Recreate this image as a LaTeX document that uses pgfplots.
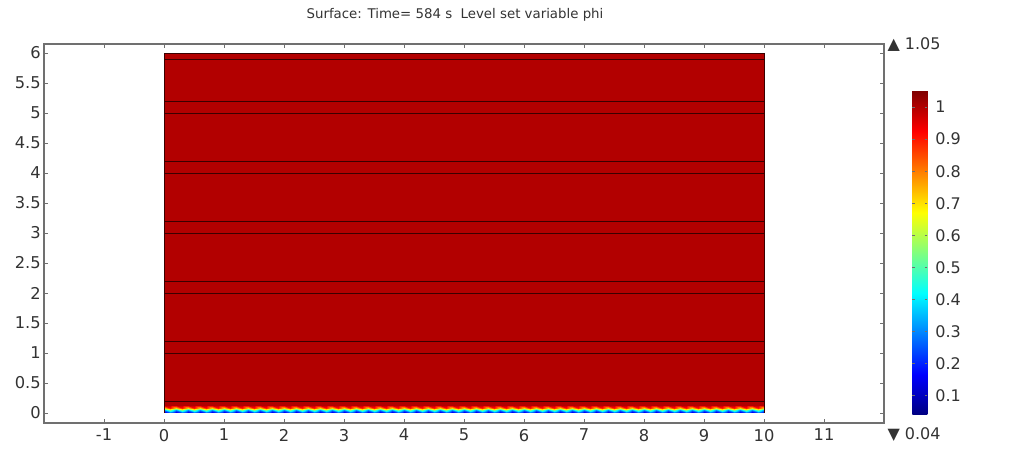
\documentclass[border=0pt]{standalone}
\usepackage{fontspec}
\setmainfont{DejaVu Sans}
\usepackage{pgfplots}
\pgfplotsset{compat=1.18}
\definecolor{axgray}{HTML}{707070}
\definecolor{txt}{HTML}{333333}
\definecolor{lvl}{HTML}{3A0000}
\begin{document}
\begin{tikzpicture}
\useasboundingbox (0,0) rectangle (760.5pt,337.5pt);
\begin{axis}[
  at={(33pt,20.25pt)}, anchor=south west,
  scale only axis, width=630pt, height=284.25pt,
  xmin=-2, xmax=12, ymin=-0.167, ymax=6.15,
  xtick={-1,0,1,2,3,4,5,6,7,8,9,10,11},
  ytick={0,0.5,1,1.5,2,2.5,3,3.5,4,4.5,5,5.5,6},
  tick align=inside, major tick length=3pt,
  axis line style={axgray, line width=0.8pt},
  tick style={axgray, line width=0.6pt},
  ticklabel style={font=\fontsize{12.2}{14}\selectfont, text=txt},
  xticklabel style={yshift=-1pt},
  yticklabel style={xshift=1pt},
  /pgf/number format/assume math mode=true,
  colormap/jet,
  point meta min=0.04, point meta max=1.05,
  colorbar,
  colorbar style={
    at={(parent axis.north east)}, anchor=north west,
    xshift=12.75pt, yshift=-35.25pt,
    scale only axis, width=11.25pt, height=243pt,
    ytick={0.1,0.2,0.3,0.4,0.5,0.6,0.7,0.8,0.9,1},
    yticklabel style={font=\fontsize{12}{14}\selectfont, text=txt, xshift=2.5pt},
    /pgf/number format/assume math mode=true,
    axis line style={draw=none},
    tick style={axgray, line width=0.4pt},
    major tick length=2pt,
  },
]
% interface band (wavy transition of phi)
\addplot[surf, shader=interp, mesh/cols=101, point meta=explicit] coordinates {
(0,0)[0.08] (0.1,0)[0.2] (0.2,0)[0.08] (0.3,0)[0.2] (0.4,0)[0.08] (0.5,0)[0.2] (0.6,0)[0.08] (0.7,0)[0.2] (0.8,0)[0.08] (0.9,0)[0.2]
(1,0)[0.08] (1.1,0)[0.2] (1.2,0)[0.08] (1.3,0)[0.2] (1.4,0)[0.08] (1.5,0)[0.2] (1.6,0)[0.08] (1.7,0)[0.2] (1.8,0)[0.08] (1.9,0)[0.2]
(2,0)[0.08] (2.1,0)[0.2] (2.2,0)[0.08] (2.3,0)[0.2] (2.4,0)[0.08] (2.5,0)[0.2] (2.6,0)[0.08] (2.7,0)[0.2] (2.8,0)[0.08] (2.9,0)[0.2]
(3,0)[0.08] (3.1,0)[0.2] (3.2,0)[0.08] (3.3,0)[0.2] (3.4,0)[0.08] (3.5,0)[0.2] (3.6,0)[0.08] (3.7,0)[0.2] (3.8,0)[0.08] (3.9,0)[0.2]
(4,0)[0.08] (4.1,0)[0.2] (4.2,0)[0.08] (4.3,0)[0.2] (4.4,0)[0.08] (4.5,0)[0.2] (4.6,0)[0.08] (4.7,0)[0.2] (4.8,0)[0.08] (4.9,0)[0.2]
(5,0)[0.08] (5.1,0)[0.2] (5.2,0)[0.08] (5.3,0)[0.2] (5.4,0)[0.08] (5.5,0)[0.2] (5.6,0)[0.08] (5.7,0)[0.2] (5.8,0)[0.08] (5.9,0)[0.2]
(6,0)[0.08] (6.1,0)[0.2] (6.2,0)[0.08] (6.3,0)[0.2] (6.4,0)[0.08] (6.5,0)[0.2] (6.6,0)[0.08] (6.7,0)[0.2] (6.8,0)[0.08] (6.9,0)[0.2]
(7,0)[0.08] (7.1,0)[0.2] (7.2,0)[0.08] (7.3,0)[0.2] (7.4,0)[0.08] (7.5,0)[0.2] (7.6,0)[0.08] (7.7,0)[0.2] (7.8,0)[0.08] (7.9,0)[0.2]
(8,0)[0.08] (8.1,0)[0.2] (8.2,0)[0.08] (8.3,0)[0.2] (8.4,0)[0.08] (8.5,0)[0.2] (8.6,0)[0.08] (8.7,0)[0.2] (8.8,0)[0.08] (8.9,0)[0.2]
(9,0)[0.08] (9.1,0)[0.2] (9.2,0)[0.08] (9.3,0)[0.2] (9.4,0)[0.08] (9.5,0)[0.2] (9.6,0)[0.08] (9.7,0)[0.2] (9.8,0)[0.08] (9.9,0)[0.2]
(10,0)[0.08]
(0,0.05)[0.3] (0.1,0.05)[0.55] (0.2,0.05)[0.3] (0.3,0.05)[0.55] (0.4,0.05)[0.3] (0.5,0.05)[0.55] (0.6,0.05)[0.3] (0.7,0.05)[0.55] (0.8,0.05)[0.3] (0.9,0.05)[0.55]
(1,0.05)[0.3] (1.1,0.05)[0.55] (1.2,0.05)[0.3] (1.3,0.05)[0.55] (1.4,0.05)[0.3] (1.5,0.05)[0.55] (1.6,0.05)[0.3] (1.7,0.05)[0.55] (1.8,0.05)[0.3] (1.9,0.05)[0.55]
(2,0.05)[0.3] (2.1,0.05)[0.55] (2.2,0.05)[0.3] (2.3,0.05)[0.55] (2.4,0.05)[0.3] (2.5,0.05)[0.55] (2.6,0.05)[0.3] (2.7,0.05)[0.55] (2.8,0.05)[0.3] (2.9,0.05)[0.55]
(3,0.05)[0.3] (3.1,0.05)[0.55] (3.2,0.05)[0.3] (3.3,0.05)[0.55] (3.4,0.05)[0.3] (3.5,0.05)[0.55] (3.6,0.05)[0.3] (3.7,0.05)[0.55] (3.8,0.05)[0.3] (3.9,0.05)[0.55]
(4,0.05)[0.3] (4.1,0.05)[0.55] (4.2,0.05)[0.3] (4.3,0.05)[0.55] (4.4,0.05)[0.3] (4.5,0.05)[0.55] (4.6,0.05)[0.3] (4.7,0.05)[0.55] (4.8,0.05)[0.3] (4.9,0.05)[0.55]
(5,0.05)[0.3] (5.1,0.05)[0.55] (5.2,0.05)[0.3] (5.3,0.05)[0.55] (5.4,0.05)[0.3] (5.5,0.05)[0.55] (5.6,0.05)[0.3] (5.7,0.05)[0.55] (5.8,0.05)[0.3] (5.9,0.05)[0.55]
(6,0.05)[0.3] (6.1,0.05)[0.55] (6.2,0.05)[0.3] (6.3,0.05)[0.55] (6.4,0.05)[0.3] (6.5,0.05)[0.55] (6.6,0.05)[0.3] (6.7,0.05)[0.55] (6.8,0.05)[0.3] (6.9,0.05)[0.55]
(7,0.05)[0.3] (7.1,0.05)[0.55] (7.2,0.05)[0.3] (7.3,0.05)[0.55] (7.4,0.05)[0.3] (7.5,0.05)[0.55] (7.6,0.05)[0.3] (7.7,0.05)[0.55] (7.8,0.05)[0.3] (7.9,0.05)[0.55]
(8,0.05)[0.3] (8.1,0.05)[0.55] (8.2,0.05)[0.3] (8.3,0.05)[0.55] (8.4,0.05)[0.3] (8.5,0.05)[0.55] (8.6,0.05)[0.3] (8.7,0.05)[0.55] (8.8,0.05)[0.3] (8.9,0.05)[0.55]
(9,0.05)[0.3] (9.1,0.05)[0.55] (9.2,0.05)[0.3] (9.3,0.05)[0.55] (9.4,0.05)[0.3] (9.5,0.05)[0.55] (9.6,0.05)[0.3] (9.7,0.05)[0.55] (9.8,0.05)[0.3] (9.9,0.05)[0.55]
(10,0.05)[0.3]
(0,0.09)[0.7] (0.1,0.09)[0.9] (0.2,0.09)[0.7] (0.3,0.09)[0.9] (0.4,0.09)[0.7] (0.5,0.09)[0.9] (0.6,0.09)[0.7] (0.7,0.09)[0.9] (0.8,0.09)[0.7] (0.9,0.09)[0.9]
(1,0.09)[0.7] (1.1,0.09)[0.9] (1.2,0.09)[0.7] (1.3,0.09)[0.9] (1.4,0.09)[0.7] (1.5,0.09)[0.9] (1.6,0.09)[0.7] (1.7,0.09)[0.9] (1.8,0.09)[0.7] (1.9,0.09)[0.9]
(2,0.09)[0.7] (2.1,0.09)[0.9] (2.2,0.09)[0.7] (2.3,0.09)[0.9] (2.4,0.09)[0.7] (2.5,0.09)[0.9] (2.6,0.09)[0.7] (2.7,0.09)[0.9] (2.8,0.09)[0.7] (2.9,0.09)[0.9]
(3,0.09)[0.7] (3.1,0.09)[0.9] (3.2,0.09)[0.7] (3.3,0.09)[0.9] (3.4,0.09)[0.7] (3.5,0.09)[0.9] (3.6,0.09)[0.7] (3.7,0.09)[0.9] (3.8,0.09)[0.7] (3.9,0.09)[0.9]
(4,0.09)[0.7] (4.1,0.09)[0.9] (4.2,0.09)[0.7] (4.3,0.09)[0.9] (4.4,0.09)[0.7] (4.5,0.09)[0.9] (4.6,0.09)[0.7] (4.7,0.09)[0.9] (4.8,0.09)[0.7] (4.9,0.09)[0.9]
(5,0.09)[0.7] (5.1,0.09)[0.9] (5.2,0.09)[0.7] (5.3,0.09)[0.9] (5.4,0.09)[0.7] (5.5,0.09)[0.9] (5.6,0.09)[0.7] (5.7,0.09)[0.9] (5.8,0.09)[0.7] (5.9,0.09)[0.9]
(6,0.09)[0.7] (6.1,0.09)[0.9] (6.2,0.09)[0.7] (6.3,0.09)[0.9] (6.4,0.09)[0.7] (6.5,0.09)[0.9] (6.6,0.09)[0.7] (6.7,0.09)[0.9] (6.8,0.09)[0.7] (6.9,0.09)[0.9]
(7,0.09)[0.7] (7.1,0.09)[0.9] (7.2,0.09)[0.7] (7.3,0.09)[0.9] (7.4,0.09)[0.7] (7.5,0.09)[0.9] (7.6,0.09)[0.7] (7.7,0.09)[0.9] (7.8,0.09)[0.7] (7.9,0.09)[0.9]
(8,0.09)[0.7] (8.1,0.09)[0.9] (8.2,0.09)[0.7] (8.3,0.09)[0.9] (8.4,0.09)[0.7] (8.5,0.09)[0.9] (8.6,0.09)[0.7] (8.7,0.09)[0.9] (8.8,0.09)[0.7] (8.9,0.09)[0.9]
(9,0.09)[0.7] (9.1,0.09)[0.9] (9.2,0.09)[0.7] (9.3,0.09)[0.9] (9.4,0.09)[0.7] (9.5,0.09)[0.9] (9.6,0.09)[0.7] (9.7,0.09)[0.9] (9.8,0.09)[0.7] (9.9,0.09)[0.9]
(10,0.09)[0.7]
(0,0.13)[1] (0.1,0.13)[1] (0.2,0.13)[1] (0.3,0.13)[1] (0.4,0.13)[1] (0.5,0.13)[1] (0.6,0.13)[1] (0.7,0.13)[1] (0.8,0.13)[1] (0.9,0.13)[1]
(1,0.13)[1] (1.1,0.13)[1] (1.2,0.13)[1] (1.3,0.13)[1] (1.4,0.13)[1] (1.5,0.13)[1] (1.6,0.13)[1] (1.7,0.13)[1] (1.8,0.13)[1] (1.9,0.13)[1]
(2,0.13)[1] (2.1,0.13)[1] (2.2,0.13)[1] (2.3,0.13)[1] (2.4,0.13)[1] (2.5,0.13)[1] (2.6,0.13)[1] (2.7,0.13)[1] (2.8,0.13)[1] (2.9,0.13)[1]
(3,0.13)[1] (3.1,0.13)[1] (3.2,0.13)[1] (3.3,0.13)[1] (3.4,0.13)[1] (3.5,0.13)[1] (3.6,0.13)[1] (3.7,0.13)[1] (3.8,0.13)[1] (3.9,0.13)[1]
(4,0.13)[1] (4.1,0.13)[1] (4.2,0.13)[1] (4.3,0.13)[1] (4.4,0.13)[1] (4.5,0.13)[1] (4.6,0.13)[1] (4.7,0.13)[1] (4.8,0.13)[1] (4.9,0.13)[1]
(5,0.13)[1] (5.1,0.13)[1] (5.2,0.13)[1] (5.3,0.13)[1] (5.4,0.13)[1] (5.5,0.13)[1] (5.6,0.13)[1] (5.7,0.13)[1] (5.8,0.13)[1] (5.9,0.13)[1]
(6,0.13)[1] (6.1,0.13)[1] (6.2,0.13)[1] (6.3,0.13)[1] (6.4,0.13)[1] (6.5,0.13)[1] (6.6,0.13)[1] (6.7,0.13)[1] (6.8,0.13)[1] (6.9,0.13)[1]
(7,0.13)[1] (7.1,0.13)[1] (7.2,0.13)[1] (7.3,0.13)[1] (7.4,0.13)[1] (7.5,0.13)[1] (7.6,0.13)[1] (7.7,0.13)[1] (7.8,0.13)[1] (7.9,0.13)[1]
(8,0.13)[1] (8.1,0.13)[1] (8.2,0.13)[1] (8.3,0.13)[1] (8.4,0.13)[1] (8.5,0.13)[1] (8.6,0.13)[1] (8.7,0.13)[1] (8.8,0.13)[1] (8.9,0.13)[1]
(9,0.13)[1] (9.1,0.13)[1] (9.2,0.13)[1] (9.3,0.13)[1] (9.4,0.13)[1] (9.5,0.13)[1] (9.6,0.13)[1] (9.7,0.13)[1] (9.8,0.13)[1] (9.9,0.13)[1]
(10,0.13)[1]
};
% bulk of the domain, phi = 1
\addplot[surf, shader=flat, mesh/cols=2, point meta=explicit] coordinates {
(0,0.13)[1] (10,0.13)[1]
(0,6)[1] (10,6)[1]
};
% horizontal lines
\addplot[lvl, line width=0.5pt] coordinates {(0,5.9) (10,5.9)};
\addplot[lvl, line width=0.5pt] coordinates {(0,5.2) (10,5.2)};
\addplot[lvl, line width=0.5pt] coordinates {(0,5.0) (10,5.0)};
\addplot[lvl, line width=0.5pt] coordinates {(0,4.2) (10,4.2)};
\addplot[lvl, line width=0.5pt] coordinates {(0,4.0) (10,4.0)};
\addplot[lvl, line width=0.5pt] coordinates {(0,3.2) (10,3.2)};
\addplot[lvl, line width=0.5pt] coordinates {(0,3.0) (10,3.0)};
\addplot[lvl, line width=0.5pt] coordinates {(0,2.2) (10,2.2)};
\addplot[lvl, line width=0.5pt] coordinates {(0,2.0) (10,2.0)};
\addplot[lvl, line width=0.5pt] coordinates {(0,1.2) (10,1.2)};
\addplot[lvl, line width=0.5pt] coordinates {(0,1.0) (10,1.0)};
\addplot[lvl, line width=0.5pt] coordinates {(0,0.2) (10,0.2)};
% domain border
\addplot[lvl, line width=0.5pt] coordinates {(0,0) (0,6) (10,6) (10,0)};
\end{axis}
\node[anchor=center, font=\fontsize{10}{12}\selectfont, text=txt] at (341.25pt,326.25pt) {Surface: Time= 584 s\ \ Level set variable phi};
\node[anchor=west, inner sep=0pt, font=\fontsize{12}{14}\selectfont, text=txt] at (665.5pt,303.75pt) {▲ 1.05};
\node[anchor=west, inner sep=0pt, font=\fontsize{12}{14}\selectfont, text=txt] at (665.5pt,11.25pt) {▼ 0.04};
\end{tikzpicture}
\end{document}
